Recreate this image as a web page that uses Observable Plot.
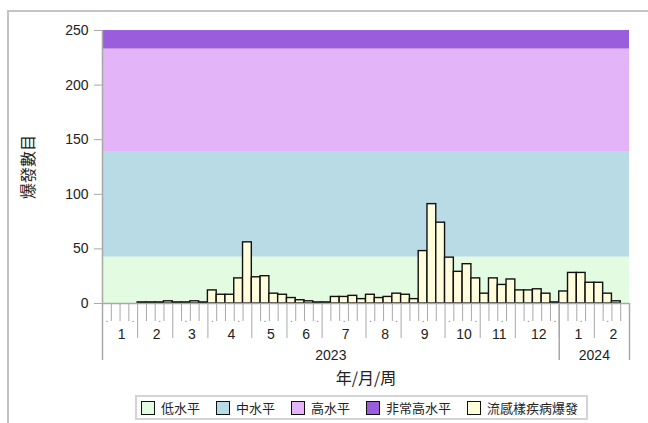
<!DOCTYPE html>
<html>
<head>
<meta charset="utf-8">
<script src="https://cdn.jsdelivr.net/npm/d3@7"></script>
<script src="https://cdn.jsdelivr.net/npm/@observablehq/plot@0.6"></script>
<style>
  html, body { margin: 0; padding: 0; background: #fff; }
  body { width: 648px; height: 423px; position: relative; overflow: hidden;
         font-family: "Liberation Sans", Arial, "Noto Sans CJK TC", sans-serif; }
  #frame { position: absolute; left: 7px; top: 10px; width: 800px; height: 600px;
           border-left: 2px solid #c4c4c4; border-top: 2px solid #c4c4c4; }
  #chart { position: absolute; left: 0; top: 0; }
  #legend { position: absolute; left: 135px; top: 395px; height: 21px; padding: 0 8px 0 4px;
            border: 2px solid #d4d4d4; display: flex; align-items: center; gap: 16px;
            font-family: "Noto Sans CJK TC", sans-serif; font-size: 13px; color: #222; }
  .item { display: flex; align-items: center; gap: 6px; white-space: nowrap; }
  .sw { width: 12px; height: 12px; border: 1.5px solid #111; }
</style>
</head>
<body>
<div id="frame"></div>
<div id="chart"></div>
<div id="legend"></div>
<script>
// ---- data ----
const years = ["2023", "2024"];
const monthLabels2023 = ["1","2","3","4","5","6","7","8","9","10","11","12"];
const weeksPerMonth2023 = [4,4,4,5,4,4,5,4,5,4,4,5];
const monthLabels2024 = ["1","2"];
const weeksPerMonth2024 = [4,4];
const outbreaks2023 = [
  0,0,0,0, 1,1,1,2, 1,1,2,1,
  12,8,8,23,56, 24,25,9,8, 5,3,2,1,
  1,6,6,7,4, 8,5,6,9,
  8,4,48,91,74, 42,29,36,23, 9,23,17,22,
  12,12,13,9,1
];
const outbreaks2024 = [11,28,28,19, 19,9,2,null];
const levelNames = ["低水平", "中水平", "高水平", "非常高水平"];
const levelLower = [0, 42.5, 138.5, 233];
const levelUpper = [42.5, 138.5, 233, 250];
const levelColors = ["#e3fce1", "#b9dbe5", "#e3b5f8", "#9a5ddb"];
const seriesName = "流感樣疾病爆發";
const seriesColor = "#fffddc";
const yTicks = [0, 50, 100, 150, 200, 250];
const yLabel = "爆發數目";
const xLabel = "年/月/周";

// ---- build tables ----
const weeks = [];
outbreaks2023.forEach(v => weeks.push({i: weeks.length, v}));
outbreaks2024.forEach(v => weeks.push({i: weeks.length, v}));
const N = weeks.length;

const monthBounds = [], monthMids = [], monthText = new Map();
let pos = 0;
const addMonths = (counts, labels) => {
  counts.forEach((c, k) => {
    const mid = pos + c / 2;
    monthMids.push(mid); monthText.set(mid, labels[k]);
    pos += c;
    monthBounds.push(pos);
  });
};
addMonths(weeksPerMonth2023, monthLabels2023);
const yearEnd2023 = pos;
addMonths(weeksPerMonth2024, monthLabels2024);
const yearBounds = [0, yearEnd2023, N];
const yearMids = [yearEnd2023 / 2, (yearEnd2023 + N) / 2];
const yearText = new Map(yearMids.map((m, k) => [m, years[k]]));
const weekBounds = d3.range(1, N).filter(b => !monthBounds.includes(b));
const weekDots = d3.range(0, N, 3).map(k => k + 0.5);
const bands = levelNames.map((n, k) => ({n, lo: levelLower[k], hi: levelUpper[k], c: levelColors[k]}));

const grey = "#a8a8a8";
const chart = Plot.plot({
  width: 648, height: 395,
  marginLeft: 102, marginRight: 19, marginTop: 30, marginBottom: 92,
  style: {fontFamily: '"Liberation Sans", Arial, "Noto Sans CJK TC", sans-serif', fontSize: "14px", color: "#222", background: "transparent"},
  x: {type: "linear", domain: [0, N], axis: null},
  y: {domain: [0, 250], axis: null},
  marks: [
    Plot.rect(bands, {x1: () => 0, x2: () => N, y1: "lo", y2: "hi", fill: "c"}),
    Plot.rectY(weeks.filter(d => d.v != null), {x1: "i", x2: d => d.i + 1, y: "v", fill: seriesColor, stroke: "#111", strokeWidth: 1.4}),
    Plot.ruleY([0], {stroke: grey, strokeWidth: 1.5}),
    Plot.ruleX([0], {stroke: grey, strokeWidth: 1.5}),
    Plot.axisY({ticks: yTicks, tickSize: 8, tickPadding: 6, stroke: grey, label: yLabel,
      labelAnchor: "center", labelOffset: 80, labelArrow: "none", fontSize: 14}),
    Plot.axisX({ticks: weekBounds, tickSize: 18, tickFormat: () => "", stroke: grey, label: null}),
    Plot.axisX({ticks: monthBounds, tickSize: 35, tickFormat: () => "", stroke: grey, label: null}),
    Plot.axisX({ticks: yearBounds, tickSize: 57, tickFormat: () => "", stroke: grey, strokeWidth: 1.5, label: null}),
    Plot.axisX({ticks: weekDots, tickSize: 0, tickPadding: 11, tickFormat: () => ".", label: null, fontSize: 10, fill: "#777"}),
    Plot.axisX({ticks: monthMids, tickSize: 0, tickPadding: 26, dx: 1.5, tickFormat: d => monthText.get(d), label: null, fontSize: 14}),
    Plot.axisX({ticks: yearMids, tickSize: 0, tickPadding: 47, tickFormat: d => yearText.get(d), fontSize: 14,
      label: xLabel, labelAnchor: "center", labelOffset: 80, labelArrow: "none"})
  ]
});
document.getElementById("chart").appendChild(chart);
// enlarge axis titles
chart.querySelectorAll("text").forEach(t => {
  if (t.textContent === yLabel || t.textContent === xLabel) {
    t.setAttribute("font-size", "16px");
    t.setAttribute("font-family", '"Noto Sans CJK TC", sans-serif');
  }
});

// legend
const legend = document.getElementById("legend");
[...bands.map(b => [b.n, b.c]), [seriesName, seriesColor]].forEach(([n, c]) => {
  const it = document.createElement("div"); it.className = "item";
  const sw = document.createElement("div"); sw.className = "sw"; sw.style.background = c;
  const tx = document.createElement("span"); tx.textContent = n;
  it.appendChild(sw); it.appendChild(tx); legend.appendChild(it);
});
</script>
</body>
</html>
